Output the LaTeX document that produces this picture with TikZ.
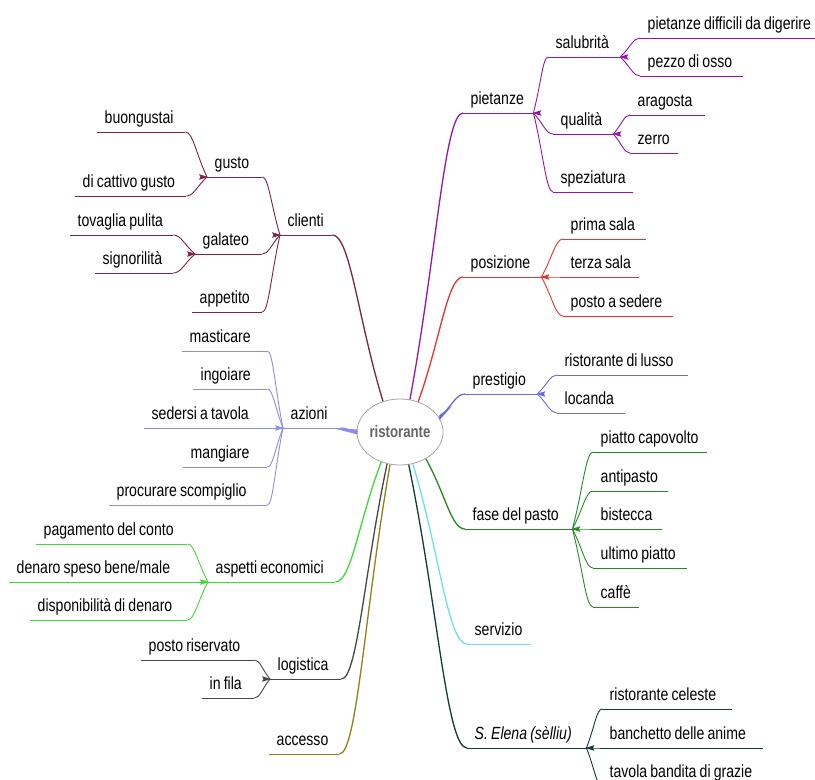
\documentclass[tikz,border=0pt]{standalone}
\usepackage{fontspec}
\setmainfont[FakeStretch=0.8,WordSpace=0.8]{Liberation Sans}
\usetikzlibrary{shapes.geometric,calc}
\definecolor{cCli}{RGB}{125,35,70}
\definecolor{cPie}{RGB}{150,20,170}
\definecolor{cPos}{RGB}{235,50,45}
\definecolor{cBlu}{RGB}{105,105,230}
\definecolor{cAzi}{RGB}{140,140,235}
\definecolor{cFas}{RGB}{35,140,30}
\definecolor{cSer}{RGB}{110,225,230}
\definecolor{cEle}{RGB}{15,60,55}
\definecolor{cAsp}{RGB}{60,220,50}
\definecolor{cLog}{RGB}{70,70,70}
\definecolor{cAcc}{RGB}{140,130,25}
\newcommand\mmfont{\fontsize{17.6}{19}\selectfont}
\newcommand\tp[2]{\makebox[#1pt][l]{#2}}
\newcommand\mmconn[3][]{\draw[conn,#1] let \p1=(#2), \p2=(#3) in (\p1) .. controls ({(\x1+\x2)/2},{(\y1+\y2)/2}) and ({\x2-0.35*(\x2-\x1)},\y2) .. (\p2);}
\newcommand\mmjunc[3]{\fill[#1] (#2) ++({-1*#3},0) -- ++({9*#3},-2.8) -- ++({-1.5*#3},2.8) -- ++({1.5*#3},2.8) -- cycle;}
\begin{document}
\begin{tikzpicture}[x=1pt,y=-1pt,
  topic/.style={anchor=south west, inner xsep=7.5pt, inner ysep=0pt, text height=14pt, text depth=8pt, font=\mmfont},
  conn/.style={line width=0.9pt},
  main/.style={line width=1.3pt},
  uline/.style={line width=0.9pt}]
\useasboundingbox (0,0) rectangle (815,780);
% centre
\node[ellipse, draw={rgb,255:red,165;green,165;blue,165}, line width=0.8pt, fill=white, minimum width=86pt, minimum height=66pt, inner sep=0pt, font=\bfseries\fontsize{16.5}{18}\selectfont, text={rgb,255:red,100;green,100;blue,100}] (ell) at (400,432) {ristorante};
% right side
\node[topic] (pietanze) at (463,113) {\tp{55}{pietanze}};
\node[topic] (salubrita) at (548,57) {\tp{57}{salubrità}};
\node[topic] (digerire) at (640,38) {\tp{175}{pietanze difficili da digerire}};
\node[topic] (osso) at (640,76) {\tp{88}{pezzo di osso}};
\node[topic] (qualita) at (553,134) {\tp{45}{qualità}};
\node[topic] (aragosta) at (630,115) {\tp{60}{aragosta}};
\node[topic] (zerro) at (630,153) {\tp{33}{zerro}};
\node[topic] (speziatura) at (553,192) {\tp{65}{speziatura}};
\node[topic] (posizione) at (463,277) {\tp{63}{posizione}};
\node[topic] (primasala) at (563,239) {\tp{68}{prima sala}};
\node[topic] (terzasala) at (563,277) {\tp{61}{terza sala}};
\node[topic] (posto) at (563,316) {\tp{95}{posto a sedere}};
\node[topic] (prestigio) at (465,394) {\tp{57}{prestigio}};
\node[topic] (lusso) at (557,375) {\tp{116}{ristorante di lusso}};
\node[topic] (locanda) at (557,413) {\tp{53}{locanda}};
\node[topic] (fase) at (465,529) {\tp{92}{fase del pasto}};
\node[topic] (capovolto) at (593,452) {\tp{99}{piatto capovolto}};
\node[topic] (antipasto) at (593,491) {\tp{60}{antipasto}};
\node[topic] (bistecca) at (593,529) {\tp{54}{bistecca}};
\node[topic] (ultimo) at (593,568) {\tp{79}{ultimo piatto}};
\node[topic] (caffe) at (593,607) {\tp{31}{caffè}};
\node[topic] (servizio) at (467,644) {\tp{49}{servizio}};
\node[topic] (elena) at (467,748) {\tp{104}{\itshape S. Elena (sèlliu)}};
\node[topic] (celeste) at (602,709) {\tp{115}{ristorante celeste}};
\node[topic] (anime) at (602,748) {\tp{146}{banchetto delle anime}};
\node[topic] (grazie) at (602,786) {\tp{148}{tavola bandita di grazie}};
% left side
\node[topic] (clienti) at (280,235) {\tp{37}{clienti}};
\node[topic] (gusto) at (207,177) {\tp{40}{gusto}};
\node[topic] (buongustai) at (97,132) {\tp{73}{buongustai}};
\node[topic] (cattivo) at (75,196) {\tp{96}{di cattivo gusto}};
\node[topic] (galateo) at (195,254) {\tp{52}{galateo}};
\node[topic] (tovaglia) at (70,235) {\tp{88}{tovaglia pulita}};
\node[topic] (signorilita) at (95,273) {\tp{63}{signorilità}};
\node[topic] (appetito) at (192,312) {\tp{55}{appetito}};
\node[topic] (azioni) at (283,428) {\tp{42}{azioni}};
\node[topic] (masticare) at (182,351) {\tp{70}{masticare}};
\node[topic] (ingoiare) at (193,389) {\tp{59}{ingoiare}};
\node[topic] (sedersi) at (144,428) {\tp{124}{sedersi a tavola}};
\node[topic] (mangiare) at (183,467) {\tp{69}{mangiare}};
\node[topic] (procurare) at (109,505) {\tp{143}{procurare scompiglio}};
\node[topic] (aspetti) at (208,582) {\tp{112}{aspetti economici}};
\node[topic] (pagamento) at (36,544) {\tp{136}{pagamento del conto}};
\node[topic] (denaro) at (9,582) {\tp{181}{denaro speso bene/male}};
\node[topic] (disponibilita) at (30,620) {\tp{142}{disponibilità di denaro}};
\node[topic] (logistica) at (270,679) {\tp{56}{logistica}};
\node[topic] (riservato) at (141,660) {\tp{98}{posto riservato}};
\node[topic] (infila) at (202,698) {\tp{37}{in fila}};
\node[topic] (accesso) at (269,754) {\tp{55}{accesso}};
% underlines
\foreach \n/\c in {pietanze/cPie,salubrita/cPie,digerire/cPie,osso/cPie,qualita/cPie,aragosta/cPie,zerro/cPie,speziatura/cPie,
  posizione/cPos,primasala/cPos,terzasala/cPos,posto/cPos,prestigio/cBlu,lusso/cBlu,locanda/cBlu,
  fase/cFas,capovolto/cFas,antipasto/cFas,bistecca/cFas,ultimo/cFas,caffe/cFas,servizio/cSer,
  elena/cEle,celeste/cEle,anime/cEle,grazie/cEle,clienti/cCli,gusto/cCli,buongustai/cCli,cattivo/cCli,
  galateo/cCli,tovaglia/cCli,signorilita/cCli,appetito/cCli,azioni/cAzi,masticare/cAzi,ingoiare/cAzi,
  sedersi/cAzi,mangiare/cAzi,procurare/cAzi,aspetti/cAsp,pagamento/cAsp,denaro/cAsp,disponibilita/cAsp,
  logistica/cLog,riservato/cLog,infila/cLog,accesso/cAcc}
  {\draw[uline,\c] (\n.south west) -- (\n.south east);}
% main branches
\mmconn[cCli,main]{ell.119}{clienti.south east}
\mmconn[cPie,main]{ell.73}{pietanze.south west}
\mmconn[cPos,main]{ell.59}{posizione.south west}
\mmconn[cBlu,main]{ell.20}{prestigio.south west}
\mmconn[cFas,main]{ell.-46}{fase.south west}
\mmconn[cSer,main]{ell.-68}{servizio.south west}
\mmconn[cEle,main]{ell.-75}{elena.south west}
\mmconn[cAsp,main]{ell.-122}{aspetti.south east}
\mmconn[cLog,main]{ell.-112}{logistica.south east}
\mmconn[cAcc,main]{ell.-107}{accesso.south east}
\mmconn[cAzi,main]{ell.west}{azioni.south east}
% tapers at the centre
\fill[cAzi] ($(ell.west)+(1,-2.5)$) -- ($(ell.west)+(1,2.5)$) -- ($(azioni.south east)+(-8,0)$) -- cycle;
\fill[cBlu] ($(ell.20)+(0,-2.5)$) -- ($(ell.20)+(0,2.5)$) -- ($(ell.20)!0.5!(prestigio.south west)$) -- cycle;
% sub branches right
\mmconn[cPie]{pietanze.south east}{salubrita.south west}
\mmconn[cPie]{pietanze.south east}{qualita.south west}
\mmconn[cPie]{pietanze.south east}{speziatura.south west}
\mmconn[cPie]{salubrita.south east}{digerire.south west}
\mmconn[cPie]{salubrita.south east}{osso.south west}
\mmconn[cPie]{qualita.south east}{aragosta.south west}
\mmconn[cPie]{qualita.south east}{zerro.south west}
\mmconn[cPos]{posizione.south east}{primasala.south west}
\mmconn[cPos]{posizione.south east}{terzasala.south west}
\mmconn[cPos]{posizione.south east}{posto.south west}
\mmconn[cBlu]{prestigio.south east}{lusso.south west}
\mmconn[cBlu]{prestigio.south east}{locanda.south west}
\mmconn[cFas]{fase.south east}{capovolto.south west}
\mmconn[cFas]{fase.south east}{antipasto.south west}
\mmconn[cFas]{fase.south east}{bistecca.south west}
\mmconn[cFas]{fase.south east}{ultimo.south west}
\mmconn[cFas]{fase.south east}{caffe.south west}
\mmconn[cEle]{elena.south east}{celeste.south west}
\mmconn[cEle]{elena.south east}{anime.south west}
\mmconn[cEle]{elena.south east}{grazie.south west}
% sub branches left
\mmconn[cCli]{clienti.south west}{gusto.south east}
\mmconn[cCli]{clienti.south west}{galateo.south east}
\mmconn[cCli]{clienti.south west}{appetito.south east}
\mmconn[cCli]{gusto.south west}{buongustai.south east}
\mmconn[cCli]{gusto.south west}{cattivo.south east}
\mmconn[cCli]{galateo.south west}{tovaglia.south east}
\mmconn[cCli]{galateo.south west}{signorilita.south east}
\mmconn[cAzi]{azioni.south west}{masticare.south east}
\mmconn[cAzi]{azioni.south west}{ingoiare.south east}
\mmconn[cAzi]{azioni.south west}{sedersi.south east}
\mmconn[cAzi]{azioni.south west}{mangiare.south east}
\mmconn[cAzi]{azioni.south west}{procurare.south east}
\mmconn[cAsp]{aspetti.south west}{pagamento.south east}
\mmconn[cAsp]{aspetti.south west}{denaro.south east}
\mmconn[cAsp]{aspetti.south west}{disponibilita.south east}
\mmconn[cLog]{logistica.south west}{riservato.south east}
\mmconn[cLog]{logistica.south west}{infila.south east}
% junction tapers
\mmjunc{cPie}{pietanze.south east}{1}
\mmjunc{cPie}{salubrita.south east}{1}
\mmjunc{cPie}{qualita.south east}{1}
\mmjunc{cPos}{posizione.south east}{1}
\mmjunc{cBlu}{prestigio.south east}{1}
\mmjunc{cFas}{fase.south east}{1}
\mmjunc{cEle}{elena.south east}{1}
\mmjunc{cCli}{clienti.south west}{-1}
\mmjunc{cCli}{gusto.south west}{-1}
\mmjunc{cCli}{galateo.south west}{-1}
\mmjunc{cAzi}{azioni.south west}{-1}
\mmjunc{cAsp}{aspetti.south west}{-1}
\mmjunc{cLog}{logistica.south west}{-1}
\end{tikzpicture}
\end{document}
